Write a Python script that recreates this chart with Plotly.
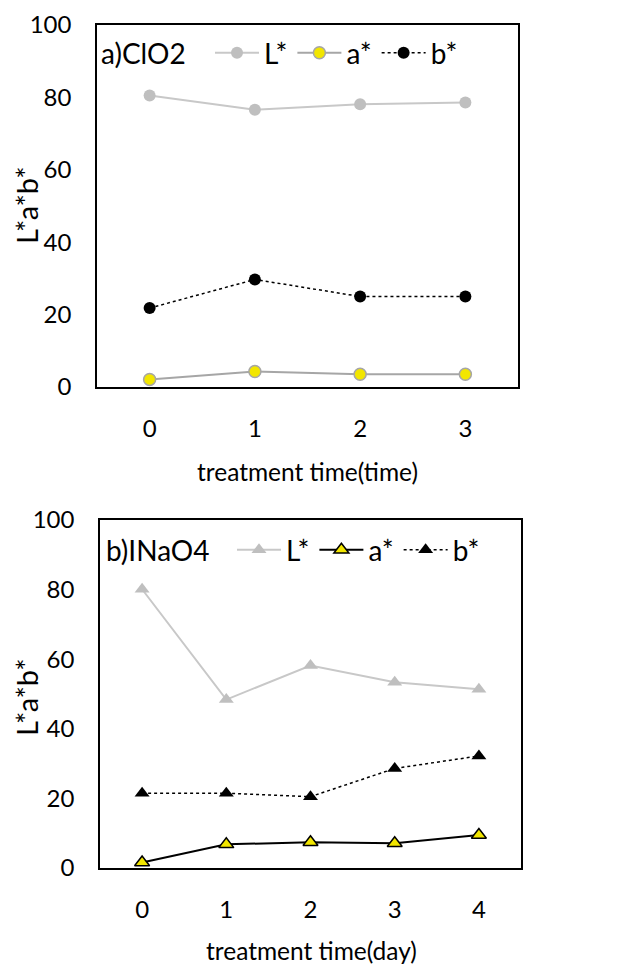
import plotly.graph_objects as go

# ---- data ----
days_a = ["0", "1", "2", "3"]
L_a = [80.5, 76.6, 78.1, 78.6]
a_a = [2.1, 4.3, 3.5, 3.5]
b_a = [21.8, 29.7, 25.0, 25.0]

days_b = ["0", "1", "2", "3", "4"]
L_b = [80.1, 48.4, 58.2, 53.4, 51.4]
a_b = [1.6, 6.8, 7.4, 7.1, 9.5]
b_b = [21.5, 21.5, 20.5, 28.6, 32.2]

y_ticks = [0, 20, 40, 60, 80, 100]

FONT = "Lato"
OFF = 8            # default page body margin
W, H = 632 - OFF, 966 - OFF

fig = go.Figure()

# top panel
fig.add_trace(go.Scatter(x=days_a, y=L_a, name="L*", mode="lines+markers",
                         line=dict(color="#C8C8C8", width=2),
                         marker=dict(symbol="circle", size=12, color="#BFBFBF"),
                         xaxis="x", yaxis="y", legend="legend"))
fig.add_trace(go.Scatter(x=days_a, y=a_a, name="a*", mode="lines+markers",
                         line=dict(color="#A6A6A6", width=2),
                         marker=dict(symbol="circle", size=12, color="#F2E600",
                                     line=dict(color="#A6A6A6", width=1.5)),
                         xaxis="x", yaxis="y", legend="legend"))
fig.add_trace(go.Scatter(x=days_a, y=b_a, name="b*", mode="lines+markers",
                         line=dict(color="#000000", width=1.5, dash="dot"),
                         marker=dict(symbol="circle", size=12, color="#000000"),
                         xaxis="x", yaxis="y", legend="legend"))

# bottom panel
fig.add_trace(go.Scatter(x=days_b, y=L_b, name="L*", mode="lines+markers",
                         line=dict(color="#C8C8C8", width=2),
                         marker=dict(symbol="triangle-up", size=13, color="#BFBFBF"),
                         xaxis="x2", yaxis="y2", legend="legend2"))
fig.add_trace(go.Scatter(x=days_b, y=a_b, name="a*", mode="lines+markers",
                         line=dict(color="#000000", width=2),
                         marker=dict(symbol="triangle-up", size=13, color="#F2E600",
                                     line=dict(color="#000000", width=1.5)),
                         xaxis="x2", yaxis="y2", legend="legend2"))
fig.add_trace(go.Scatter(x=days_b, y=b_b, name="b*", mode="lines+markers",
                         line=dict(color="#000000", width=1.5, dash="dot"),
                         marker=dict(symbol="triangle-up", size=13, color="#000000"),
                         xaxis="x2", yaxis="y2", legend="legend2"))

def px_x(p):
    return (p - OFF) / W

def px_y(p):
    return 1 - (p - OFF) / H

axis_common = dict(showgrid=False, zeroline=False, showline=True, mirror=True,
                   linecolor="#000000", linewidth=1.5, ticks="",
                   ticklabeloverflow="allow",
                   tickfont=dict(family=FONT, size=24, color="#000000"))

fig.update_layout(
    width=W, height=H,
    margin=dict(l=0, r=0, t=0, b=0, autoexpand=False),
    paper_bgcolor="white", plot_bgcolor="white",
    font=dict(family=FONT, color="#000000"),
    xaxis=dict(domain=[px_x(97), px_x(518)], anchor="y", type="category",
               range=[-0.5, 3.5], ticklabelstandoff=19, **axis_common),
    yaxis=dict(domain=[px_y(387), px_y(25)], anchor="x", range=[0, 100],
               tickvals=y_ticks, ticklabelstandoff=19, **axis_common),
    xaxis2=dict(domain=[px_x(100), px_x(521)], anchor="y2", type="category",
                range=[-0.5, 4.5], ticklabelstandoff=19, **axis_common),
    yaxis2=dict(domain=[px_y(868), px_y(520)], anchor="x2", range=[0, 100],
                tickvals=y_ticks, ticklabelstandoff=19, **axis_common),
    legend=dict(orientation="h", x=px_x(210), y=px_y(53), xanchor="left", yanchor="middle",
                bgcolor="rgba(0,0,0,0)", font=dict(family=FONT, size=28),
                itemwidth=44, tracegroupgap=0),
    legend2=dict(orientation="h", x=px_x(232), y=px_y(550), xanchor="left", yanchor="middle",
                 bgcolor="rgba(0,0,0,0)", font=dict(family=FONT, size=28),
                 itemwidth=44, tracegroupgap=0),
    annotations=[
        dict(text="a)ClO2", x=px_x(99), y=px_y(53), xref="paper", yref="paper",
             xanchor="left", yanchor="middle", showarrow=False,
             font=dict(family=FONT, size=28)),
        dict(text="b)INaO4", x=px_x(104), y=px_y(550), xref="paper", yref="paper",
             xanchor="left", yanchor="middle", showarrow=False,
             font=dict(family=FONT, size=28)),
        dict(text="treatment time(time)", x=px_x(307), y=px_y(471), xref="paper", yref="paper",
             xanchor="center", yanchor="middle", showarrow=False,
             font=dict(family=FONT, size=24.5)),
        dict(text="treatment time(day)", x=px_x(311), y=px_y(950), xref="paper", yref="paper",
             xanchor="center", yanchor="middle", showarrow=False,
             font=dict(family=FONT, size=24.5)),
        dict(text="L*a*b*", x=px_x(26), y=px_y(205), xref="paper", yref="paper",
             xanchor="center", yanchor="middle", showarrow=False, textangle=-90,
             font=dict(family=FONT, size=29)),
        dict(text="L*a*b*", x=px_x(26), y=px_y(697), xref="paper", yref="paper",
             xanchor="center", yanchor="middle", showarrow=False, textangle=-90,
             font=dict(family=FONT, size=29)),
    ],
)

fig.write_html("out.html")
